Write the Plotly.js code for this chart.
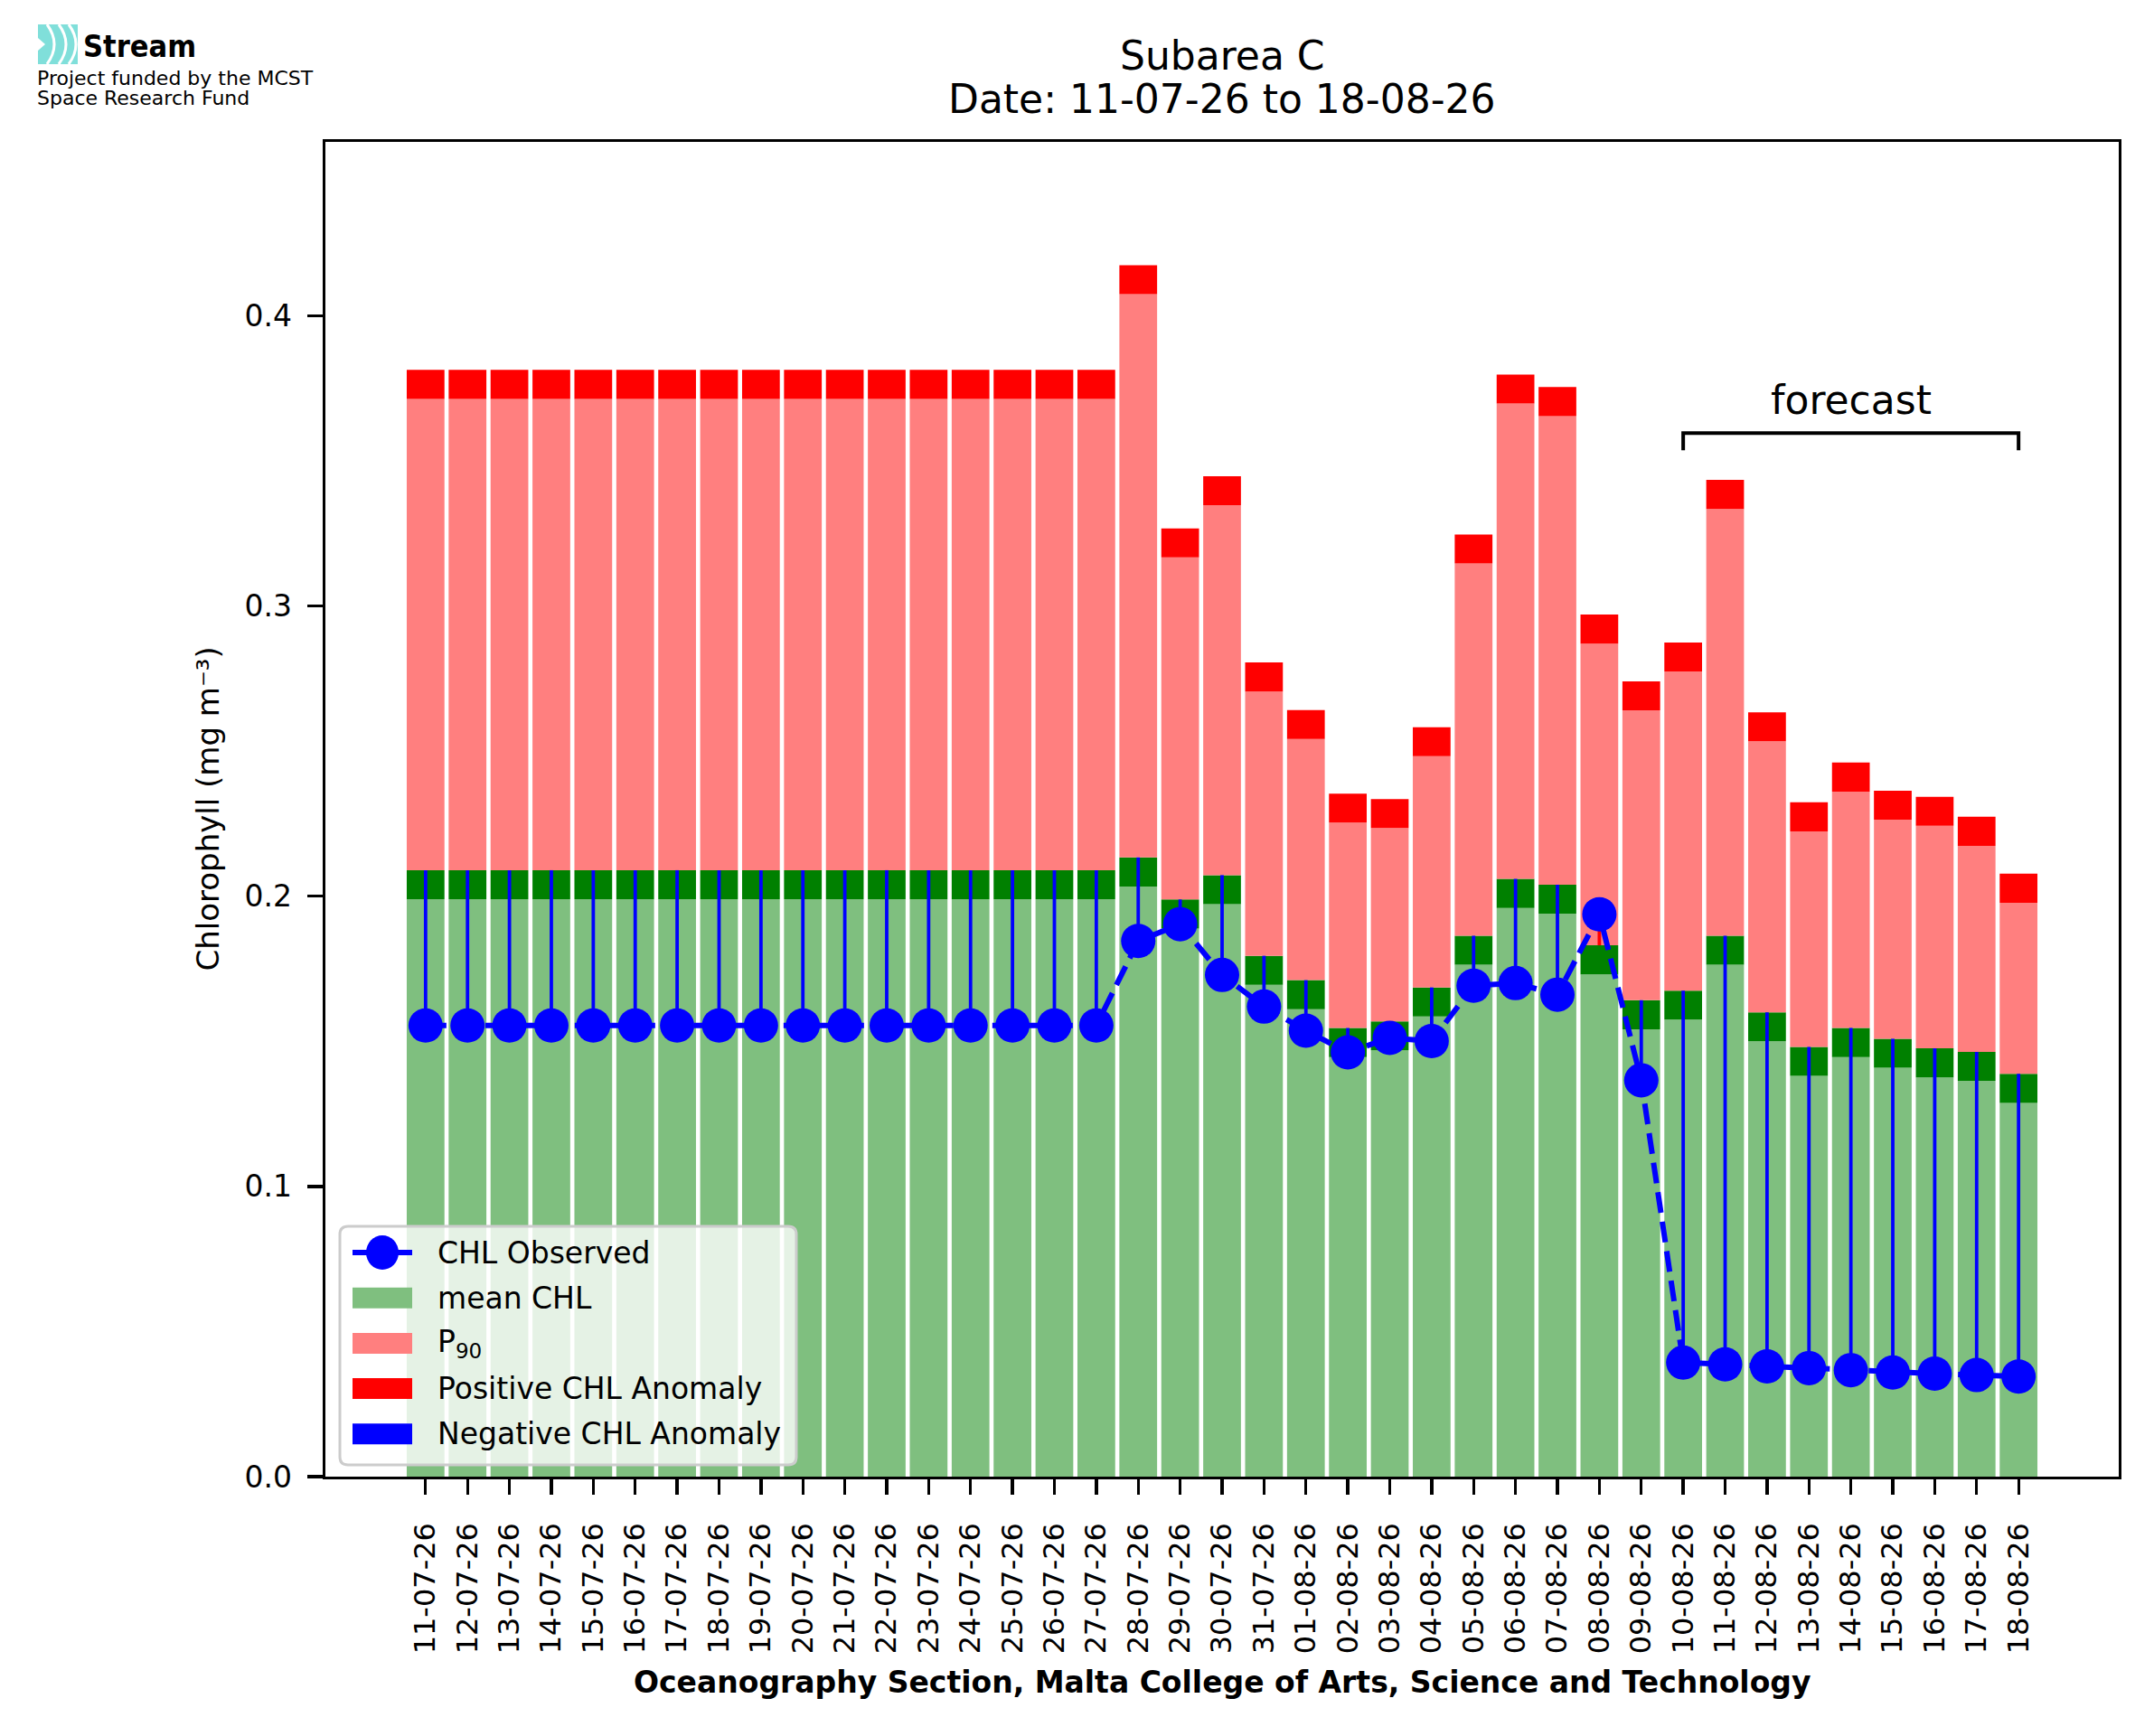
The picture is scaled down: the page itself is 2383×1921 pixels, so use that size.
<!DOCTYPE html>
<html>
<head>
<meta charset="utf-8">
<script src="https://cdn.plot.ly/plotly-3.0.1.min.js"></script>
<style>
  body { margin: 0; background: #fff; }
  #chl { width: 2383px; height: 1921px; }
</style>
</head>
<body>
<div id="chl"></div>
<script>
// dates shown on the x axis
var dates = [
    '11-07-26', '12-07-26', '13-07-26', '14-07-26', '15-07-26', '16-07-26', '17-07-26',
    '18-07-26', '19-07-26', '20-07-26', '21-07-26', '22-07-26', '23-07-26', '24-07-26',
    '25-07-26', '26-07-26', '27-07-26', '28-07-26', '29-07-26', '30-07-26', '31-07-26',
    '01-08-26', '02-08-26', '03-08-26', '04-08-26', '05-08-26', '06-08-26', '07-08-26',
    '08-08-26', '09-08-26', '10-08-26', '11-08-26', '12-08-26', '13-08-26', '14-08-26',
    '15-08-26', '16-08-26', '17-08-26', '18-08-26'
];

// climatological mean chl (top of the light green bar)
var meanCHL = [
    0.199, 0.199, 0.199, 0.199, 0.199, 0.199, 0.199, 0.199, 0.199, 0.199,
    0.199, 0.199, 0.199, 0.199, 0.199, 0.199, 0.199, 0.2034, 0.1889, 0.1973,
    0.1695, 0.1611, 0.1446, 0.1469, 0.1586, 0.1764, 0.196, 0.194, 0.1731, 0.1542,
    0.1575, 0.1764, 0.150, 0.1381, 0.1446, 0.1409, 0.1376, 0.1364, 0.1288
];

// 90th percentile (top of the pink bar)
var p90 = [
    0.3714, 0.3714, 0.3714, 0.3714, 0.3714, 0.3714, 0.3714, 0.3714, 0.3714, 0.3714,
    0.3714, 0.3714, 0.3714, 0.3714, 0.3714, 0.3714, 0.3714, 0.4075, 0.3168, 0.3348,
    0.2706, 0.2542, 0.2254, 0.2235, 0.2483, 0.3147, 0.3698, 0.3655, 0.2871, 0.2641,
    0.2775, 0.3335, 0.2534, 0.2224, 0.2361, 0.2264, 0.2243, 0.2174, 0.1978
];

// observed / forecast chl
var observed = [
    0.1555, 0.1555, 0.1555, 0.1555, 0.1555, 0.1555, 0.1555, 0.1555, 0.1555, 0.1555,
    0.1555, 0.1555, 0.1555, 0.1555, 0.1555, 0.1555, 0.1555, 0.1846, 0.1904, 0.1729,
    0.162, 0.1537, 0.1462, 0.1512, 0.1501, 0.1692, 0.1701, 0.1661, 0.1938, 0.1366,
    0.0393, 0.0387, 0.038, 0.0374, 0.0367, 0.0359, 0.0355, 0.035, 0.0345
];

var firstForecast = '10-08-26';

var legendLabels = ['CHL Observed', 'mean CHL', 'P<sub>90</sub>', 'Positive CHL Anomaly', 'Negative CHL Anomaly'];
var legendColors = ['#0000ff', '#7fbf7f', '#ff7f7f', '#ff0000', '#0000ff'];

var band = 0.01;       // thickness of the dark green / red edge bands
var stemWidth = 0.082; // anomaly stems, in bar units
var FONT = 'DejaVu Sans';

// figure pixel box of the axes, used to place things outside it
var AX = {l: 360, r: 2344, t: 157, b: 1634};
function px(X) { return (X - AX.l) / (AX.r - AX.l); }
function py(Y) { return (AX.b - Y) / (AX.b - AX.t); }

var bandTop = meanCHL.map(function (m) { return m + band; });
var negLen = observed.map(function (o, i) { return o < bandTop[i] ? bandTop[i] - o : null; });
var posLen = observed.map(function (o, i) { return o > bandTop[i] ? o - bandTop[i] : null; });

var data = [
    {
        type: 'bar', x: dates, y: meanCHL, base: 0, width: 0.9,
        marker: {color: '#7fbf7f'}, name: 'mean CHL'
    },
    {
        type: 'bar', x: dates, y: dates.map(function () { return band; }), base: meanCHL, width: 0.9,
        marker: {color: '#008000'}
    },
    {
        type: 'bar', x: dates, y: p90.map(function (p, i) { return p - bandTop[i]; }), base: bandTop, width: 0.9,
        marker: {color: '#ff7f7f'}, name: 'P90'
    },
    {
        type: 'bar', x: dates, y: dates.map(function () { return band; }), base: p90, width: 0.9,
        marker: {color: '#ff0000'}, name: 'Positive CHL Anomaly'
    },
    {
        type: 'bar', x: dates, y: negLen, base: observed, width: stemWidth,
        marker: {color: '#0000ff'}, name: 'Negative CHL Anomaly'
    },
    {
        type: 'bar', x: dates, y: posLen, base: bandTop, width: stemWidth,
        marker: {color: '#ff0000'}
    },
    {
        type: 'scatter', mode: 'lines+markers', x: dates, y: observed,
        line: {color: '#0000ff', width: 6, dash: '23px,10px'},
        marker: {color: '#0000ff', size: 38},
        name: 'CHL Observed'
    }
];

var fStart = dates.indexOf(firstForecast);
var fEnd = dates.length - 1;

var shapes = [
    // forecast bracket
    {
        type: 'path', xref: 'x', yref: 'y',
        path: 'M ' + fStart + ',0.3537 L ' + fStart + ',0.3596 L ' + fEnd + ',0.3596 L ' + fEnd + ',0.3537',
        line: {color: '#000', width: 4}
    },
    // logo icon
    {
        type: 'rect', xref: 'paper', yref: 'paper', layer: 'above',
        x0: px(42), x1: px(86), y0: py(71), y1: py(27),
        fillcolor: '#80dfda', line: {width: 0}
    },
    {
        type: 'path', xref: 'paper', yref: 'paper', layer: 'above',
        path: 'M ' + px(42) + ',' + py(42) + ' L ' + px(50) + ',' + py(49) + ' L ' + px(42) + ',' + py(56) + ' Z',
        fillcolor: '#ffffff', line: {width: 0}
    }
];
[52, 65, 76].forEach(function (X) {
    shapes.push({
        type: 'path', xref: 'paper', yref: 'paper', layer: 'above',
        path: 'M ' + px(X) + ',' + py(27) + ' Q ' + px(X + 16) + ',' + py(49) + ' ' + px(X) + ',' + py(71),
        line: {color: '#ffffff', width: 3}
    });
});

// legend frame (rounded, semi transparent like matplotlib's)
var L = {x0: 376, x1: 881, y0: 1357, y1: 1621, r: 9};
shapes.push({
    type: 'path', xref: 'paper', yref: 'paper', layer: 'above',
    path: 'M ' + px(L.x0 + L.r) + ',' + py(L.y0) +
          ' L ' + px(L.x1 - L.r) + ',' + py(L.y0) +
          ' Q ' + px(L.x1) + ',' + py(L.y0) + ' ' + px(L.x1) + ',' + py(L.y0 + L.r) +
          ' L ' + px(L.x1) + ',' + py(L.y1 - L.r) +
          ' Q ' + px(L.x1) + ',' + py(L.y1) + ' ' + px(L.x1 - L.r) + ',' + py(L.y1) +
          ' L ' + px(L.x0 + L.r) + ',' + py(L.y1) +
          ' Q ' + px(L.x0) + ',' + py(L.y1) + ' ' + px(L.x0) + ',' + py(L.y1 - L.r) +
          ' L ' + px(L.x0) + ',' + py(L.y0 + L.r) +
          ' Q ' + px(L.x0) + ',' + py(L.y0) + ' ' + px(L.x0 + L.r) + ',' + py(L.y0) + ' Z',
    fillcolor: 'rgba(255,255,255,0.8)', line: {color: '#cccccc', width: 3}
});

var annotations = [
    {
        text: 'Subarea C', xref: 'paper', yref: 'paper', x: 0.5, y: 1,
        yshift: 96, yanchor: 'middle', showarrow: false,
        font: {family: FONT, size: 44}
    },
    {
        text: 'Date: ' + dates[0] + ' to ' + dates[dates.length - 1],
        xref: 'paper', yref: 'paper', x: 0.5, y: 1,
        yshift: 48, yanchor: 'middle', showarrow: false,
        font: {family: FONT, size: 44}
    },
    {
        text: 'forecast', xref: 'x', yref: 'y', x: (fStart + fEnd) / 2, y: 0.371,
        yanchor: 'middle', showarrow: false,
        font: {family: FONT, size: 44}
    },
    {
        text: 'Oceanography Section, Malta College of Arts, Science and Technology',
        xref: 'paper', yref: 'paper', x: 0.5, y: py(1862), xanchor: 'center', yanchor: 'middle', showarrow: false,
        font: {family: FONT, size: 33, weight: 'bold'}
    },
    {
        text: 'Chlorophyll (mg m⁻³)', xref: 'paper', yref: 'paper',
        x: px(229), y: 0.5, xanchor: 'center', yanchor: 'middle', textangle: -90, showarrow: false,
        font: {family: FONT, size: 34}
    },
    {
        text: 'Stream', xref: 'paper', yref: 'paper', x: px(90), y: 1,
        xanchor: 'left', yanchor: 'middle', yshift: AX.t - 51, showarrow: false,
        font: {family: 'DejaVu Sans Condensed, DejaVu Sans', size: 34, weight: 'bold'}
    },
    {
        text: 'Project funded by the MCST', xref: 'paper', yref: 'paper', x: px(39), y: 1,
        xanchor: 'left', yanchor: 'middle', yshift: AX.t - 86, showarrow: false,
        font: {family: FONT, size: 22}
    },
    {
        text: 'Space Research Fund', xref: 'paper', yref: 'paper', x: px(39), y: 1,
        xanchor: 'left', yanchor: 'middle', yshift: AX.t - 108, showarrow: false,
        font: {family: FONT, size: 22}
    }
];

// legend rows: handle on the left, label on the right
legendLabels.forEach(function (lab, i) {
    var yc = 1386 + i * 50.2;
    if (i === 0) {
        shapes.push({
            type: 'line', xref: 'paper', yref: 'paper', layer: 'above',
            x0: px(390), x1: px(456), y0: py(yc), y1: py(yc),
            line: {color: legendColors[i], width: 6}
        });
        shapes.push({
            type: 'circle', xref: 'paper', yref: 'paper', layer: 'above',
            x0: px(423 - 18), x1: px(423 + 18), y0: py(yc + 19), y1: py(yc - 19),
            fillcolor: legendColors[i], line: {width: 0}
        });
    } else {
        shapes.push({
            type: 'rect', xref: 'paper', yref: 'paper', layer: 'above',
            x0: px(390), x1: px(456), y0: py(yc + 11.5), y1: py(yc - 11.5),
            fillcolor: legendColors[i], line: {width: 0}
        });
    }
    annotations.push({
        text: lab, xref: 'paper', yref: 'paper', x: px(482), y: py(yc),
        xanchor: 'left', yanchor: 'middle', showarrow: false,
        font: {family: FONT, size: 33}
    });
});

var layout = {
    width: 2383,
    height: 1921,
    paper_bgcolor: '#ffffff',
    plot_bgcolor: '#ffffff',
    barmode: 'overlay',
    showlegend: false,
    font: {family: FONT, size: 33, color: '#000000'},
    margin: {l: AX.l, r: 2383 - AX.r, t: AX.t, b: 1921 - AX.b, pad: 0},
    xaxis: {
        type: 'category',
        range: [-2.39, dates.length - 1 + 2.39],
        showline: true, linecolor: '#000', linewidth: 3.3, mirror: true,
        ticks: 'outside', ticklen: 17, tickwidth: 3.3, tickcolor: '#000',
        tickangle: -90, ticklabelstandoff: 18,
        tickfont: {family: FONT, size: 32},
        showgrid: false, zeroline: false
    },
    yaxis: {
        range: [0, 0.46],
        tickvals: [0, 0.1, 0.2, 0.3, 0.4],
        tickformat: '.1f',
        showline: true, linecolor: '#000', linewidth: 3.3, mirror: true,
        ticks: 'outside', ticklen: 17, tickwidth: 3.3, tickcolor: '#000',
        ticklabelstandoff: 10,
        tickfont: {family: FONT, size: 33},
        showgrid: false, zeroline: false
    },
    shapes: shapes,
    annotations: annotations
};

Plotly.newPlot('chl', data, layout, {displayModeBar: false, staticPlot: true});
</script>
</body>
</html>
